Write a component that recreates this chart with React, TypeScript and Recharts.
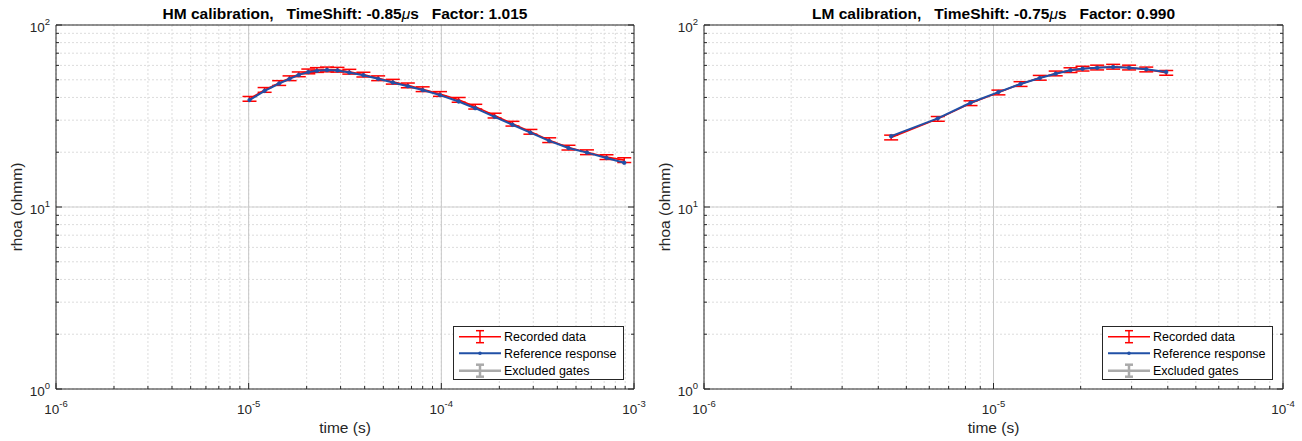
import React from 'react';
import {
  ComposedChart,
  Line,
  XAxis,
  YAxis,
  CartesianGrid,
  ErrorBar,
  ReferenceLine,
  Legend,
  Label,
} from 'recharts';

const FONT = '"Liberation Sans", Arial, Helvetica, sans-serif';
const AXIS = '#262626';
const RED = '#ff0000';
const BLUE = '#2150a6';
const GRAY = '#aaaaaa';

// ---------- data ----------
const HM_TIME = [
  1.01e-5, 1.21e-5, 1.44e-5, 1.63e-5, 1.82e-5, 2.04e-5, 2.26e-5, 2.55e-5, 2.89e-5,
  3.33e-5, 3.94e-5, 4.7e-5, 5.6e-5, 6.7e-5, 8.0e-5, 9.84e-5, 1.23e-4, 1.5e-4, 1.89e-4,
  2.34e-4, 2.9e-4, 3.63e-4, 4.57e-4, 5.7e-4, 7.2e-4, 8.9e-4,
];
const HM_RECORDED = [
  39.3, 44.0, 48.0, 51.0, 53.6, 55.6, 56.6, 57.0, 56.8, 55.4, 53.4, 51.0, 48.8, 46.6,
  44.4, 41.8, 38.8, 35.6, 31.8, 28.7, 25.9, 23.3, 21.2, 20.0, 18.8, 18.1,
];
const HM_REFERENCE = [
  38.7, 43.5, 47.7, 50.6, 53.2, 55.1, 56.0, 56.6, 56.3, 54.8, 53.0, 50.6, 48.3, 46.1,
  43.9, 41.2, 38.0, 34.9, 31.3, 28.3, 25.6, 23.1, 21.1, 19.9, 18.6, 17.5,
];

const LM_TIME = [
  4.43e-6, 6.42e-6, 8.33e-6, 1.04e-5, 1.24e-5, 1.445e-5, 1.64e-5, 1.845e-5, 2.03e-5,
  2.28e-5, 2.59e-5, 2.94e-5, 3.37e-5, 3.95e-5,
];
const LM_RECORDED = [
  24.1, 30.5, 37.2, 42.6, 47.4, 51.3, 54.2, 56.5, 57.6, 58.4, 59.0, 58.4, 57.0, 54.6,
];
const LM_REFERENCE = [
  24.5, 30.7, 37.4, 42.8, 47.4, 51.1, 54.0, 56.4, 57.5, 58.2, 58.8, 58.2, 57.1, 55.2,
];

// relative uncertainty of the recorded data (error bar half-size)
const REL_ERR = 0.03;

const HM_DECADES_X = [1e-6, 1e-5, 1e-4, 1e-3];
const LM_DECADES_X = [1e-6, 1e-5, 1e-4];
const DECADES_Y = [1, 10, 100];
const MINOR_STEPS = [1, 2, 3, 4, 5, 6, 7, 8, 9];

const LEGEND_LABELS = ['Recorded data', 'Reference response', 'Excluded gates'];

// ---------- helpers ----------
const logTicks = (decades: number[]) => {
  const out: number[] = [];
  for (let i = 0; i < decades.length - 1; i++) {
    for (const m of MINOR_STEPS) out.push(m * decades[i]);
  }
  out.push(decades[decades.length - 1]);
  return out;
};

const isDecade = (v: number) =>
  Math.abs(Math.log10(v) - Math.round(Math.log10(v))) < 1e-6;

const expOf = (v: number) => String(Math.round(Math.log10(v)));

const Y_TICKS = logTicks(DECADES_Y);

// ---------- tick renderers ----------
const BottomTick = (props: any) => {
  const { x, y, payload } = props;
  const major = isDecade(payload.value);
  return (
    <g>
      <line x1={x} x2={x} y1={y} y2={y - (major ? 6 : 3)} stroke={AXIS} strokeWidth={1} />
      {major && (
        <text x={x} y={y + 25} textAnchor="middle" fontSize={13.5} fill={AXIS} fontFamily={FONT}>
          <tspan>10</tspan>
          <tspan dy={-7} fontSize={9.5}>
            {expOf(payload.value)}
          </tspan>
        </text>
      )}
    </g>
  );
};

const TopTick = (props: any) => {
  const { x, y, payload } = props;
  const major = isDecade(payload.value);
  return <line x1={x} x2={x} y1={y} y2={y + (major ? 6 : 3)} stroke={AXIS} strokeWidth={1} />;
};

const LeftTick = (props: any) => {
  const { x, y, payload } = props;
  const major = isDecade(payload.value);
  return (
    <g>
      <line x1={x} x2={x + (major ? 6 : 3)} y1={y} y2={y} stroke={AXIS} strokeWidth={1} />
      {major && (
        <text x={x - 6} y={y + 7} textAnchor="end" fontSize={13.5} fill={AXIS} fontFamily={FONT}>
          <tspan>10</tspan>
          <tspan dy={-7} fontSize={9.5}>
            {expOf(payload.value)}
          </tspan>
        </text>
      )}
    </g>
  );
};

const RightTick = (props: any) => {
  const { x, y, payload } = props;
  const major = isDecade(payload.value);
  return <line x1={x} x2={x - (major ? 6 : 3)} y1={y} y2={y} stroke={AXIS} strokeWidth={1} />;
};

// ---------- legend ----------
const LegendBox = () => {
  const rows = [10.7, 27.3, 44.7];
  return (
    <svg width={171} height={54} style={{ display: 'block' }}>
      <rect x={0.5} y={0.5} width={170} height={53} fill="#ffffff" stroke={AXIS} strokeWidth={1} />
      {/* Recorded data */}
      <line x1={6} x2={48} y1={rows[0]} y2={rows[0]} stroke={RED} strokeWidth={1.5} />
      <line x1={27} x2={27} y1={rows[0] - 6} y2={rows[0] + 6} stroke={RED} strokeWidth={1.5} />
      <line x1={23} x2={31} y1={rows[0] - 6} y2={rows[0] - 6} stroke={RED} strokeWidth={1.5} />
      <line x1={23} x2={31} y1={rows[0] + 6} y2={rows[0] + 6} stroke={RED} strokeWidth={1.5} />
      {/* Reference response */}
      <line x1={6} x2={48} y1={rows[1]} y2={rows[1]} stroke={BLUE} strokeWidth={2} />
      <circle cx={27} cy={rows[1]} r={1.8} fill={BLUE} />
      {/* Excluded gates */}
      <line x1={6} x2={48} y1={rows[2]} y2={rows[2]} stroke={GRAY} strokeWidth={2.5} />
      <line x1={27} x2={27} y1={rows[2] - 6} y2={rows[2] + 6} stroke={GRAY} strokeWidth={2.5} />
      <line x1={23} x2={31} y1={rows[2] - 6} y2={rows[2] - 6} stroke={GRAY} strokeWidth={2.5} />
      <line x1={23} x2={31} y1={rows[2] + 6} y2={rows[2] + 6} stroke={GRAY} strokeWidth={2.5} />
      {LEGEND_LABELS.map((l, i) => (
        <text key={l} x={51} y={rows[i] + 4.5} fontSize={12.5} fontFamily={FONT} fill="#000">
          {l}
        </text>
      ))}
    </svg>
  );
};

// ---------- panel ----------
type PanelProps = {
  mode: string;
  shift: string;
  factor: string;
  time: number[];
  recorded: number[];
  reference: number[];
  decadesX: number[];
  marginLeft: number;
  marginRight: number;
  legendLeft: number;
};

const W = 651;
const H = 441;

const Panel = (p: PanelProps) => {
  const data = p.time.map((t, i) => ({
    t,
    rec: p.recorded[i],
    recErr: [p.recorded[i] * REL_ERR, p.recorded[i] * REL_ERR],
    ref: p.reference[i],
  }));
  const xTicks = logTicks(p.decadesX);
  const xDomain = [p.decadesX[0], p.decadesX[p.decadesX.length - 1]];
  const innerMajorsX = p.decadesX.slice(1, -1);

  const TitleLabel = (lp: any) => {
    const vb = lp.viewBox || { x: 0, y: 0, width: 0, height: 0 };
    return (
      <text
        x={vb.x + vb.width / 2}
        y={19}
        textAnchor="middle"
        fontSize={15.5}
        fontWeight="bold"
        fontFamily={FONT}
        fill="#000"
        style={{ whiteSpace: 'pre' }}
      >
        <tspan>{`${p.mode} calibration,   TimeShift: ${p.shift}`}</tspan>
        <tspan fontStyle="italic" fontWeight="normal">
          μ
        </tspan>
        <tspan>{`s   Factor: ${p.factor}`}</tspan>
      </text>
    );
  };

  const XLabel = (lp: any) => {
    const vb = lp.viewBox || { x: 0, y: 0, width: 0, height: 0 };
    return (
      <text x={vb.x + vb.width / 2} y={vb.y + 44} textAnchor="middle" fontSize={15.5} fontFamily={FONT} fill={AXIS}>
        time (s)
      </text>
    );
  };

  const YLabel = (lp: any) => {
    const vb = lp.viewBox || { x: 0, y: 0, width: 0, height: 0 };
    const cx = vb.x + vb.width - 34;
    const cy = vb.y + vb.height / 2;
    return (
      <text
        x={cx}
        y={cy}
        transform={`rotate(-90, ${cx}, ${cy})`}
        textAnchor="middle"
        fontSize={15.5}
        fontFamily={FONT}
        fill={AXIS}
      >
        rhoa (ohmm)
      </text>
    );
  };

  return (
    <ComposedChart
      width={W}
      height={H}
      data={data}
      margin={{ top: 0, left: p.marginLeft, right: p.marginRight, bottom: 12 }}
    >
      <CartesianGrid stroke="#dcdcdc" strokeDasharray="2 2" strokeWidth={1} />
      {innerMajorsX.map((v) => (
        <ReferenceLine key={`mx${v}`} x={v} stroke="#c8c8c8" strokeWidth={1} />
      ))}
      <ReferenceLine y={10} stroke="#cfcfcf" strokeWidth={1} />
      <XAxis
        dataKey="t"
        type="number"
        scale="log"
        domain={xDomain}
        allowDataOverflow
        ticks={xTicks}
        interval={0}
        height={40}
        tickSize={0}
        tickMargin={0}
        tickLine={false}
        tick={<BottomTick />}
        axisLine={{ stroke: AXIS, strokeWidth: 1 }}
      >
        <Label content={<XLabel />} />
      </XAxis>
      <XAxis
        xAxisId="top"
        orientation="top"
        type="number"
        scale="log"
        domain={xDomain}
        allowDataOverflow
        ticks={xTicks}
        interval={0}
        height={25}
        tickSize={0}
        tickMargin={0}
        tickLine={false}
        tick={<TopTick />}
        axisLine={{ stroke: AXIS, strokeWidth: 1 }}
      >
        <Label content={<TitleLabel />} />
      </XAxis>
      <YAxis
        type="number"
        scale="log"
        domain={[1, 100]}
        allowDataOverflow
        ticks={Y_TICKS}
        interval={0}
        width={50}
        tickSize={0}
        tickMargin={0}
        tickLine={false}
        tick={<LeftTick />}
        axisLine={{ stroke: AXIS, strokeWidth: 1 }}
      >
        <Label content={<YLabel />} />
      </YAxis>
      <YAxis
        yAxisId="right"
        orientation="right"
        type="number"
        scale="log"
        domain={[1, 100]}
        allowDataOverflow
        ticks={Y_TICKS}
        interval={0}
        width={10}
        tickSize={0}
        tickMargin={0}
        tickLine={false}
        tick={<RightTick />}
        axisLine={{ stroke: AXIS, strokeWidth: 1 }}
      />
      <Line
        dataKey="rec"
        name="Recorded data"
        stroke={RED}
        strokeWidth={1.6}
        dot={false}
        isAnimationActive={false}
      >
        <ErrorBar dataKey="recErr" width={7} stroke={RED} strokeWidth={1.5} direction="y" isAnimationActive={false} />
      </Line>
      <Line
        dataKey="ref"
        name="Reference response"
        stroke={BLUE}
        strokeWidth={2}
        dot={{ r: 1.9, fill: BLUE, stroke: BLUE, strokeWidth: 0.5 }}
        isAnimationActive={false}
      />
      <Legend
        layout="horizontal"
        verticalAlign="middle"
        align="center"
        width={171}
        height={54}
        content={<LegendBox />}
        wrapperStyle={{ position: 'absolute', left: p.legendLeft, top: 326, width: 171, height: 54 }}
      />
    </ComposedChart>
  );
};

export default function App() {
  return (
    <div
      style={{
        position: 'absolute',
        left: 0,
        top: 0,
        width: 1302,
        height: 441,
        display: 'flex',
        background: '#ffffff',
        fontFamily: FONT,
      }}
    >
      <Panel
        mode="HM"
        shift="-0.85"
        factor="1.015"
        time={HM_TIME}
        recorded={HM_RECORDED}
        reference={HM_REFERENCE}
        decadesX={HM_DECADES_X}
        marginLeft={6}
        marginRight={7}
        legendLeft={453}
      />
      <Panel
        mode="LM"
        shift="-0.75"
        factor="0.990"
        time={LM_TIME}
        recorded={LM_RECORDED}
        reference={LM_REFERENCE}
        decadesX={LM_DECADES_X}
        marginLeft={3}
        marginRight={9}
        legendLeft={451}
      />
    </div>
  );
}
